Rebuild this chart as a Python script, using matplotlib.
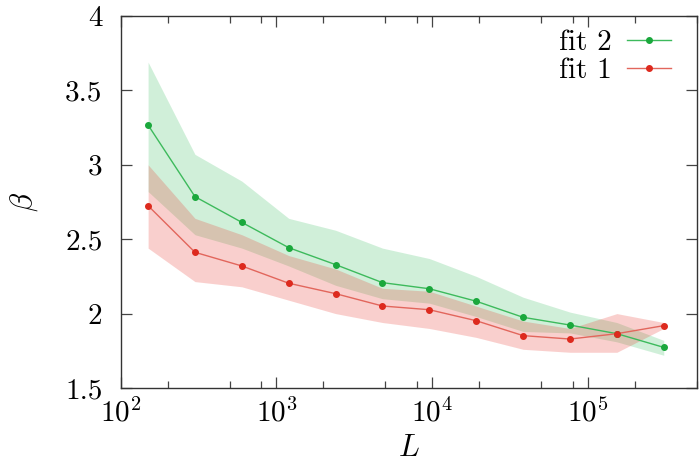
import numpy as np
import matplotlib
matplotlib.use("Agg")
import matplotlib.pyplot as plt
from matplotlib.ticker import LogLocator, FuncFormatter, NullFormatter

plt.rcParams["font.family"] = "serif"
plt.rcParams["font.serif"] = ["cmr10"]
plt.rcParams["mathtext.fontset"] = "cm"
plt.rcParams["axes.formatter.use_mathtext"] = True

# system sizes
L = [150, 300, 600, 1200, 2400, 4800, 9600, 19200, 38400, 76800, 153600, 307200]

# fit 2 (green)
fit2 = [3.267, 2.786, 2.613, 2.443, 2.329, 2.208, 2.167, 2.083, 1.975, 1.923, 1.865, 1.773]
fit2_hi = [3.69, 3.07, 2.89, 2.64, 2.56, 2.44, 2.37, 2.25, 2.11, 2.01, 1.94, 1.82]
fit2_lo = [2.82, 2.53, 2.44, 2.32, 2.19, 2.10, 2.07, 1.98, 1.88, 1.87, 1.81, 1.72]

# fit 1 (red)
fit1 = [2.725, 2.412, 2.320, 2.204, 2.134, 2.051, 2.026, 1.952, 1.852, 1.829, 1.865, 1.919]
fit1_hi = [3.00, 2.64, 2.53, 2.39, 2.30, 2.17, 2.15, 2.05, 1.95, 1.90, 2.00, 1.94]
fit1_lo = [2.44, 2.215, 2.18, 2.09, 2.00, 1.94, 1.90, 1.84, 1.76, 1.74, 1.74, 1.90]

green = "#1aa83c"
red = "#dd2a1e"

fig = plt.figure(figsize=(7, 4.65), dpi=100)
ax = fig.add_axes([0.1724, 0.1656, 0.8229, 0.8000])

ax.fill_between(L, fit2_lo, fit2_hi, color="#22b850", alpha=0.21, lw=0)
ax.fill_between(L, fit1_lo, fit1_hi, color="#ea3a30", alpha=0.24, lw=0)

ax.plot(L, fit2, color="#3dba5c", lw=1.0, marker="o", ms=4,
        mfc=green, mec=green, label="fit 2")
ax.plot(L, fit1, color="#e2665c", lw=1.0, marker="o", ms=4,
        mfc=red, mec=red, label="fit 1")

ax.set_xscale("log")
ax.set_xlim(100, 5e5)
ax.set_ylim(1.5, 4)
ax.set_yticks([1.5, 2, 2.5, 3, 3.5, 4])
ax.yaxis.set_major_formatter(FuncFormatter(lambda v, p: "%g" % v))
ax.xaxis.set_minor_locator(LogLocator(base=10, subs=[2, 5, 8]))
ax.xaxis.set_minor_formatter(NullFormatter())

for s in ax.spines.values():
    s.set_color("#333333")
    s.set_linewidth(1.0)
ax.tick_params(which="both", direction="in", top=True, right=True,
               color="#444444", labelsize=21)
ax.tick_params(which="major", length=8, width=0.9)
ax.tick_params(which="minor", length=5, width=0.9)
ax.tick_params(axis="y", pad=13)
ax.tick_params(axis="x", pad=7)

ax.set_xlabel(r"$L$", fontsize=22, labelpad=5)
ax.set_ylabel(r"$\beta$", fontsize=22, labelpad=18)

ax.legend(loc="upper right", frameon=False, markerfirst=False, fontsize=21,
          handlelength=1.5, handletextpad=0.5, labelspacing=0.05,
          borderaxespad=0.2, bbox_to_anchor=(0.985, 1.01))

fig.savefig("out.png", dpi=100)
